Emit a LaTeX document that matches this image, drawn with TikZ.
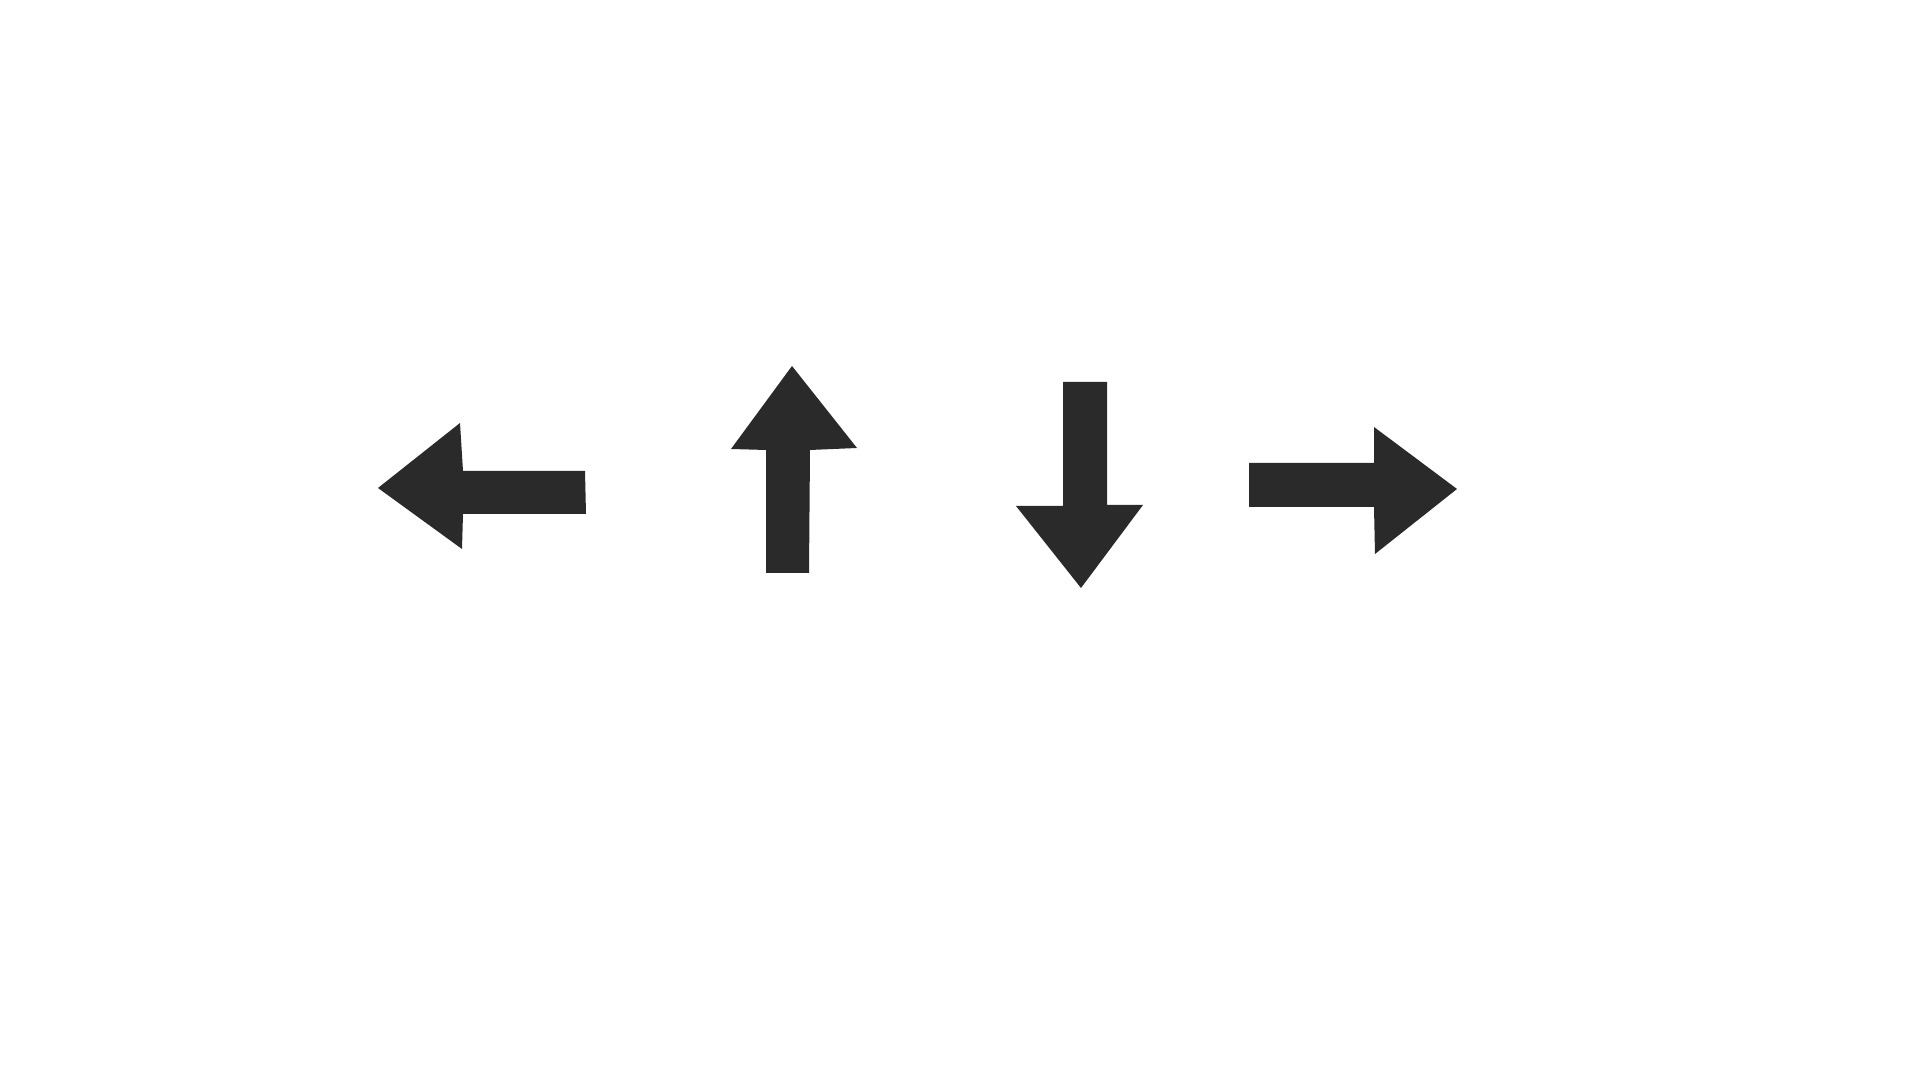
\documentclass[tikz,border=0pt]{standalone}
\usepackage{tikz}
\definecolor{arrowgray}{RGB}{42,42,42}

\begin{document}
\begin{tikzpicture}[x=0.01cm, y=-0.01cm]
% Canvas
\fill[white] (0,0) rectangle (1920,1080);
\useasboundingbox (0,0) rectangle (1920,1080);

% Left arrow
\fill[arrowgray] (378,488) -- (460,423) -- (463,471) -- (585,471) -- (586,514) -- (463,514) -- (462,549) -- cycle;

% Up arrow
\fill[arrowgray] (792,366) -- (857,448) -- (810,450) -- (809,573) -- (766,573) -- (766,450) -- (731,449) -- cycle;

% Down arrow
\fill[arrowgray] (1063,382) -- (1107,382) -- (1107,505) -- (1143,505) -- (1081,588) -- (1016,506) -- (1063,506) -- cycle;

% Right arrow
\fill[arrowgray] (1249,463) -- (1374,463) -- (1374,427) -- (1457,489) -- (1375,554) -- (1374,507) -- (1249,507) -- cycle;
\end{tikzpicture}
\end{document}
